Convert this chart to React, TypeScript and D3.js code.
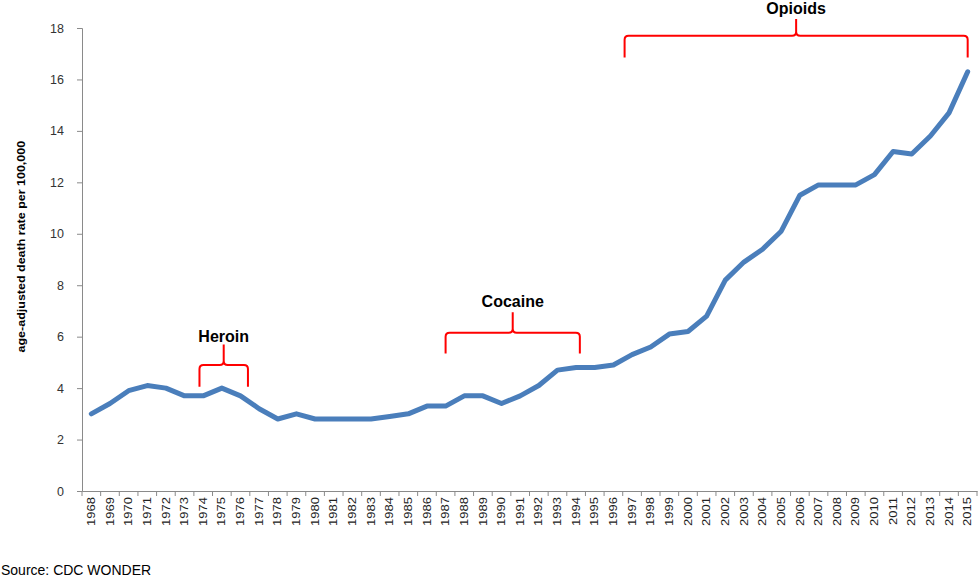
import * as d3 from "d3";
import React, { useEffect, useRef } from "react";

const years = d3.range(1968, 2016).map(String);
const rates = [
  3.0, 3.4, 3.9, 4.1, 4.0, 3.7, 3.7, 4.0, 3.7, 3.2,
  2.8, 3.0, 2.8, 2.8, 2.8, 2.8, 2.9, 3.0, 3.3, 3.3,
  3.7, 3.7, 3.4, 3.7, 4.1, 4.7, 4.8, 4.8, 4.9, 5.3,
  5.6, 6.1, 6.2, 6.8, 8.2, 8.9, 9.4, 10.1, 11.5, 11.9,
  11.9, 11.9, 12.3, 13.2, 13.1, 13.8, 14.7, 16.3,
];
const yTicks = [0, 2, 4, 6, 8, 10, 12, 14, 16, 18];

// bracket annotations: year span + levels in data units
const annLabels = ["Heroin", "Cocaine", "Opioids"];
const annStart = [1973.8, 1987.0, 1996.6];
const annEnd = [1976.4, 1994.2, 2015.0];
const annBottom = [4.05, 5.35, 16.85];
const annBar = [4.9, 6.15, 17.7];
const annTop = [5.7, 6.95, 18.35];
const annText = [5.8, 7.15, 18.55];

const W = 978;
const H = 578;
const margin = { top: 28, right: 1, bottom: 87, left: 82 };
const FONT = "Liberation Sans, Arial, sans-serif";

export default function App() {
  const ref = useRef<SVGSVGElement>(null);

  useEffect(() => {
    const svg = d3.select(ref.current);
    svg.selectAll("*").remove();

    const innerW = W - margin.left - margin.right;
    const innerH = H - margin.top - margin.bottom;

    const x = d3.scaleBand().domain(years).range([0, innerW]);
    const y = d3.scaleLinear().domain([0, 18]).range([innerH, 0]);
    // continuous year scale for annotations, aligned with band centers
    const xYear = d3
      .scaleLinear()
      .domain([1968, 2015])
      .range([x("1968")! + x.bandwidth() / 2, x("2015")! + x.bandwidth() / 2]);

    const g = svg
      .append("g")
      .attr("transform", `translate(${margin.left},${margin.top})`);

    // y axis
    const yAxis = g.append("g").call(
      d3.axisLeft(y).tickValues(yTicks).tickSize(5).tickPadding(13)
    );
    yAxis.select(".domain").attr("stroke", "#8a8a8a");
    yAxis.selectAll(".tick line").attr("stroke", "#8a8a8a");
    yAxis
      .selectAll(".tick text")
      .attr("font-family", FONT)
      .attr("font-size", 12.5)
      .attr("fill", "#333");

    // x axis
    const xAxis = g
      .append("g")
      .attr("transform", `translate(0,${innerH})`)
      .call(d3.axisBottom(x).tickSize(0));
    xAxis.select(".domain").attr("stroke", "#8a8a8a");
    xAxis.selectAll(".tick line").remove();
    xAxis
      .selectAll(".tick text")
      .attr("transform", "rotate(-90) scale(1,0.8)")
      .attr("text-anchor", "end")
      .attr("x", -6)
      .attr("y", 0)
      .attr("dy", "0.35em")
      .attr("font-family", FONT)
      .attr("font-size", 13)
      .attr("fill", "#222");
    // category boundary ticks
    g.append("g")
      .selectAll("line")
      .data(d3.range(years.length + 1))
      .enter()
      .append("line")
      .attr("x1", (i) => i * x.step())
      .attr("x2", (i) => i * x.step())
      .attr("y1", innerH)
      .attr("y2", innerH + 5)
      .attr("stroke", "#8a8a8a");

    // line
    const line = d3
      .line<number>()
      .x((d, i) => x(years[i])! + x.bandwidth() / 2)
      .y((d) => y(d));
    g.append("path")
      .datum(rates)
      .attr("d", line)
      .attr("fill", "none")
      .attr("stroke", "#4a7ebb")
      .attr("stroke-width", 5)
      .attr("stroke-linejoin", "round")
      .attr("stroke-linecap", "round");

    // brackets
    annLabels.forEach((label, i) => {
      const x1 = xYear(annStart[i]);
      const x2 = xYear(annEnd[i]);
      const xm = (x1 + x2) / 2;
      const yb = y(annBottom[i]);
      const yh = y(annBar[i]);
      const yt = y(annTop[i]);
      const r = 4;
      const p = d3.path();
      p.moveTo(x1, yb);
      p.lineTo(x1, yh + r);
      p.quadraticCurveTo(x1, yh, x1 + r, yh);
      p.lineTo(xm - r, yh);
      p.quadraticCurveTo(xm, yh, xm, yh - r);
      p.lineTo(xm, yt);
      p.moveTo(xm, yh - r);
      p.quadraticCurveTo(xm, yh, xm + r, yh);
      p.lineTo(x2 - r, yh);
      p.quadraticCurveTo(x2, yh, x2, yh + r);
      p.lineTo(x2, yb);
      g.append("path")
        .attr("d", p.toString())
        .attr("fill", "none")
        .attr("stroke", "#ff0000")
        .attr("stroke-width", 2);
      g.append("text")
        .attr("x", xm)
        .attr("y", y(annText[i]))
        .attr("text-anchor", "middle")
        .attr("font-family", FONT)
        .attr("font-weight", "bold")
        .attr("font-size", 16)
        .attr("fill", "#000")
        .text(label);
    });

    // y title
    svg
      .append("text")
      .attr("transform", `translate(25,${margin.top + y(9.5)}) rotate(-90) scale(1,0.9)`)
      .attr("text-anchor", "middle")
      .attr("font-family", FONT)
      .attr("font-weight", "bold")
      .attr("font-size", 12.5)
      .attr("fill", "#000")
      .text("age-adjusted death rate per 100,000");

    // source
    svg
      .append("text")
      .attr("x", 1)
      .attr("y", 575)
      .attr("font-family", FONT)
      .attr("font-size", 14)
      .attr("fill", "#000")
      .text("Source: CDC WONDER");
  }, []);

  return (
    <svg
      ref={ref}
      width={W}
      height={H}
      style={{ position: "absolute", left: 0, top: 0, background: "#fff" }}
    />
  );
}
